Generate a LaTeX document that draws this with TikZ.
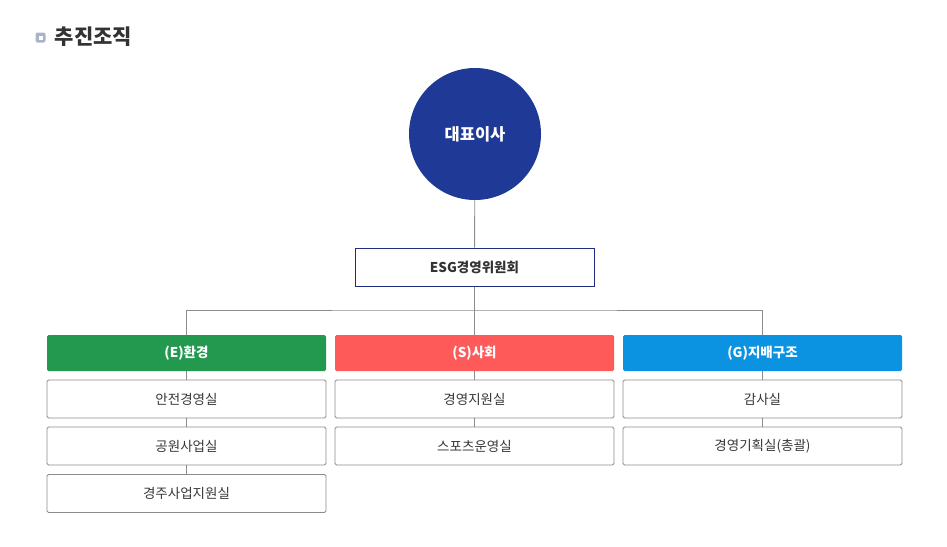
\documentclass[tikz,border=0pt]{standalone}
\usepackage{fontspec}
\setmainfont{Noto Sans CJK KR}
\begin{document}
\begin{tikzpicture}[x=1pt,y=-1pt,
  conn/.style={draw=black!45,line width=0.9pt},
  head/.style={rounded corners=1.5pt,minimum width=279pt,minimum height=36pt,inner sep=0pt,text=white,font=\fontsize{13.5}{14}\selectfont\bfseries},
  sub/.style={draw=black!45,line width=0.9pt,fill=white,rounded corners=1.5pt,minimum width=279pt,minimum height=38pt,inner sep=0pt,text=black!78,font=\fontsize{13.5}{14}\selectfont}]
\definecolor{navy}{RGB}{30,58,150}
\definecolor{navyline}{RGB}{30,45,125}
\definecolor{egreen}{RGB}{34,153,79}
\definecolor{sred}{RGB}{255,90,90}
\definecolor{gblue}{RGB}{11,146,224}
\definecolor{bullet}{RGB}{170,180,200}
\useasboundingbox (0,0) rectangle (947,546);
% title
\node[fill=bullet,rounded corners=2pt,minimum size=10pt,inner sep=0pt] (bul) at (40.5,37.5) {};
\node[fill=white,minimum size=4pt,inner sep=0pt] (bulin) at (bul.center) {};
\node[anchor=west,inner sep=0pt,text=black!80,font=\fontsize{21}{23}\selectfont\bfseries] (title) at (54.5,37) {추진조직};
% CEO
\node[circle,fill=navy,minimum size=132pt,inner sep=0pt,text=white,font=\fontsize{16.5}{18}\selectfont\bfseries] (ceo) at (475,134) {대표이사};
\node[draw=navyline,line width=1pt,minimum width=239pt,minimum height=38pt,inner sep=0pt,text=black!80,font=\fontsize{13.5}{14}\selectfont\bfseries] (esg) at (474.5,267) {ESG경영위원회};
% headers
\node[head,fill=egreen] (e) at (186.5,353) {(E)환경};
\node[head,fill=sred] (s) at (474.5,353) {(S)사회};
\node[head,fill=gblue] (g) at (762.5,353) {(G)지배구조};
% connectors
\coordinate (hub) at (474.5,310);
\draw[conn] (ceo) -- (esg);
\draw[conn] (esg) -- (hub);
\draw[conn] (e.north) |- (hub) -| (g.north);
\draw[conn] (hub) -- (s.north);
% sub boxes
\node[sub] (e1) at (186.5,399) {안전경영실};
\node[sub] (e2) at (186.5,446) {공원사업실};
\node[sub] (e3) at (186.5,493.5) {경주사업지원실};
\node[sub] (s1) at (474.5,399) {경영지원실};
\node[sub] (s2) at (474.5,446) {스포츠운영실};
\node[sub] (g1) at (762.5,399) {감사실};
\node[sub] (g2) at (762.5,446) {경영기획실(총괄)};
\draw[conn] (e) -- (e1);
\draw[conn] (e1) -- (e2);
\draw[conn] (e2) -- (e3);
\draw[conn] (s) -- (s1);
\draw[conn] (s1) -- (s2);
\draw[conn] (g) -- (g1);
\draw[conn] (g1) -- (g2);
\end{tikzpicture}
\end{document}
